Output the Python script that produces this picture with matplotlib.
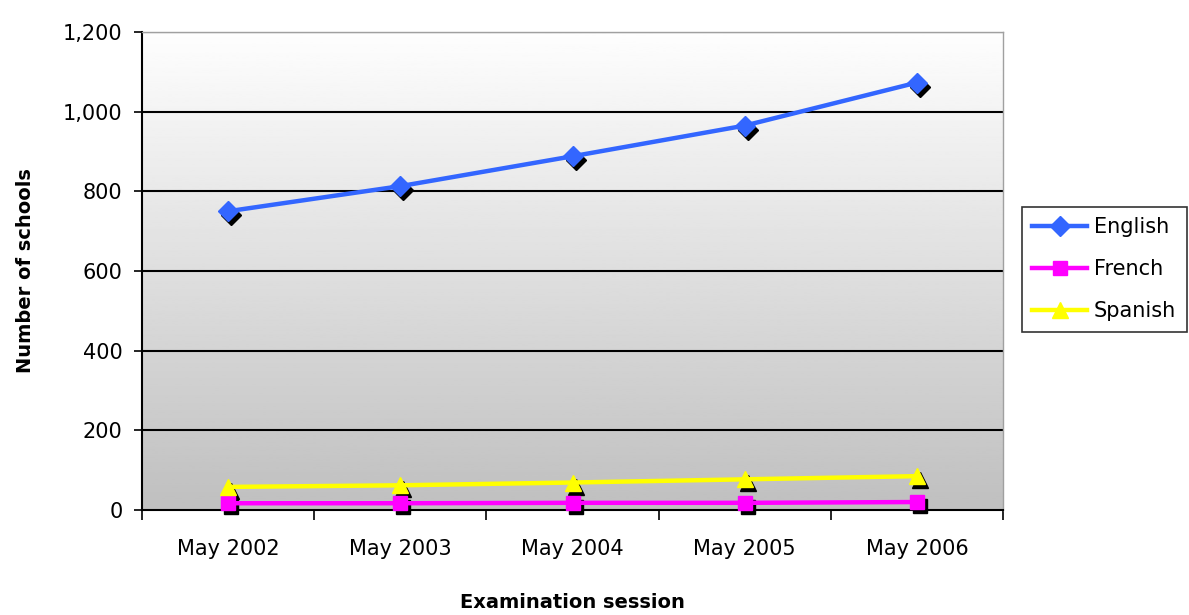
import matplotlib.pyplot as plt
import numpy as np
from matplotlib import transforms
from matplotlib.ticker import FuncFormatter

# Data
sessions = ['May 2002', 'May 2003', 'May 2004', 'May 2005', 'May 2006']
english = [750, 813, 888, 965, 1073]
french = [17, 17, 18, 18, 20]
spanish = [58, 62, 69, 77, 85]

series = [
    ('English', english, '#3366FF', 'D', 10),
    ('French', french, '#FF00FF', 's', 10),
    ('Spanish', spanish, '#FFFF00', '^', 11),
]

plt.rcParams['font.family'] = 'DejaVu Sans'

fig = plt.figure(figsize=(11.89, 6.15), dpi=100)
ax = fig.add_axes([142 / 1189, 105 / 615, 861 / 1189, 478 / 615])

# Gradient background (white at top, grey at bottom)
grad = np.linspace(0.995, 0.75, 256).reshape(-1, 1)
ax.imshow(grad, cmap='gray', vmin=0, vmax=1, aspect='auto',
          extent=[0, 1, 0, 1], transform=ax.transAxes, zorder=0)

x = np.arange(len(sessions))
ax.set_xlim(-0.5, len(sessions) - 0.5)
ax.set_ylim(0, 1200)

for yv in range(200, 1201, 200):
    ax.axhline(yv, color='black', linewidth=1.5, zorder=1)

shadow = transforms.offset_copy(ax.transData, fig=fig, x=3, y=-4, units='dots')
for name, vals, color, marker, ms in series:
    ax.plot(x, vals, linestyle='none', marker=marker, markersize=ms,
            color='black', transform=shadow, zorder=2, clip_on=False)
    ax.plot(x, vals, color=color, linewidth=3.2, marker=marker, markersize=ms,
            markeredgecolor=color, label=name, zorder=3, clip_on=False)

# Axes styling
for side in ['top', 'right']:
    ax.spines[side].set_color('#a0a0a0')
    ax.spines[side].set_linewidth(1)
ax.spines['left'].set_linewidth(1.5)
ax.spines['bottom'].set_linewidth(1.5)

ax.set_yticks(range(0, 1201, 200))
ax.yaxis.set_major_formatter(FuncFormatter(lambda v, p: f'{int(v):,}'))
ax.tick_params(axis='y', direction='out', length=6, width=1.2, pad=8, labelsize=15)

ax.set_xticks(x)
ax.set_xticklabels(sessions)
ax.set_xticks(np.arange(-0.5, len(sessions)), minor=True)
ax.tick_params(axis='x', which='major', length=0, pad=21, labelsize=15)
ax.tick_params(axis='x', which='minor', direction='out', length=7, width=1.2)

ax.set_ylabel('Number of schools', fontsize=14, fontweight='bold', labelpad=20)
ax.set_xlabel('Examination session', fontsize=14, fontweight='bold', labelpad=24)

leg = fig.legend(loc='upper left', bbox_to_anchor=(1022 / 1189, 1 - 207 / 615),
                 fontsize=15, frameon=True, fancybox=False, edgecolor='black',
                 handlelength=2.6, borderpad=0.5, labelspacing=1.05,
                 handletextpad=0.35, borderaxespad=0)
leg.get_frame().set_linewidth(1.2)

fig.savefig('out.png', dpi=100)
